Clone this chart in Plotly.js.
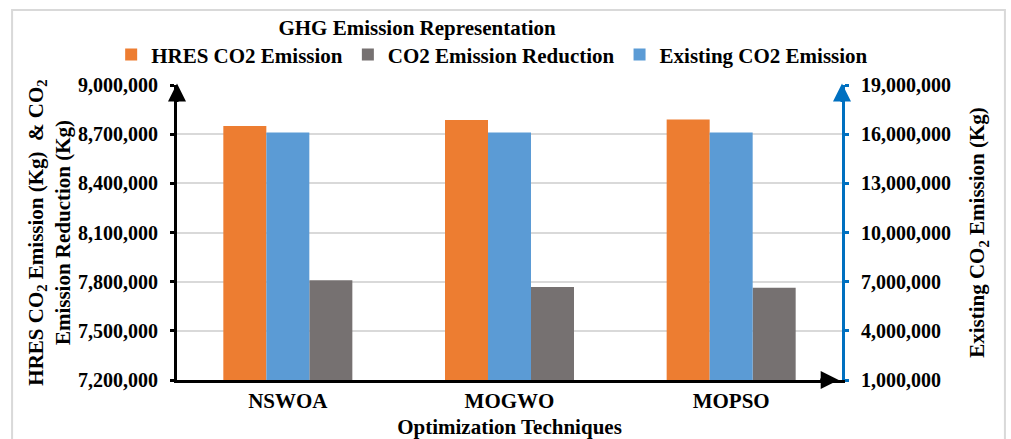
<!DOCTYPE html>
<html>
<head>
<meta charset="utf-8">
<script src="https://cdn.plot.ly/plotly-3.0.1.min.js"></script>
<style>
html,body{margin:0;padding:0;background:#fff;}
#chart{width:1011px;height:439px;}
</style>
</head>
<body>
<div id="chart"></div>
<script>
const categories = ["NSWOA", "MOGWO", "MOPSO"];
const hresCO2 = [8750000, 8787000, 8790000];
const co2Reduction = [7808000, 7767000, 7763000];
const existingCO2 = [16100000, 16100000, 16100000];

const FONT = "Liberation Serif, Times New Roman, serif";
const barW = 0.194;

const traces = [
  {type:'bar', name:'HRES CO2 Emission', x:categories, y:hresCO2, yaxis:'y',
   marker:{color:'#ED7D31'}, width:barW, offset:-0.291, base:0},
  {type:'bar', name:'CO2 Emission Reduction', x:categories, y:co2Reduction, yaxis:'y',
   marker:{color:'#767171'}, width:barW, offset:0.097, base:0},
  {type:'bar', name:'Existing CO2 Emission', x:categories, y:existingCO2, yaxis:'y2',
   marker:{color:'#5B9BD5'}, width:barW, offset:-0.097, base:0}
];

const tickFont = {family:FONT, size:20, color:'#000', weight:700};
const titleFont = {family:FONT, size:21, color:'#000', weight:700};

const layout = {
  width:1011, height:439,
  margin:{l:177, r:169, t:85, b:59},
  paper_bgcolor:'#fff', plot_bgcolor:'#fff',
  barmode:'overlay',
  showlegend:true,
  title:{text:'GHG Emission Representation', x:0.4125, xref:'container', xanchor:'center',
         y:0.936, yref:'container', yanchor:'middle', font:titleFont},
  legend:{orientation:'h', x:-0.099, xanchor:'left', y:1.102, yanchor:'middle',
          font:titleFont, itemwidth:30, traceorder:'normal', bgcolor:'rgba(0,0,0,0)'},
  xaxis:{type:'category', range:[-0.5, 2.5], showgrid:false, zeroline:false,
         showline:true, linecolor:'#000', linewidth:3, ticks:'',
         tickfont:{family:FONT, size:21, color:'#000', weight:700}, fixedrange:true,
         title:{text:'Optimization Techniques', standoff:8, font:titleFont}},
  yaxis:{range:[7200000, 9000000], dtick:300000, tick0:7200000, tickformat:',d',
         showgrid:true, gridcolor:'#d9d9d9', gridwidth:2, zeroline:false,
         showline:true, linecolor:'#000', linewidth:3,
         ticks:'outside', ticklen:4, tickwidth:3, tickcolor:'#000',
         ticklabelstandoff:8, tickfont:tickFont,
         title:{text:'HRES CO<sub>2</sub> Emission (Kg)  & CO<sub>2</sub><br>Emission Reduction (Kg)',
                standoff:2, font:titleFont}},
  yaxis2:{overlaying:'y', side:'right', range:[1000000, 19000000], dtick:3000000, tick0:1000000,
          tickformat:',d', showgrid:false, zeroline:false,
          showline:true, linecolor:'#0070C0', linewidth:3,
          ticks:'outside', ticklen:4, tickwidth:3, tickcolor:'#0070C0',
          ticklabelstandoff:8, tickfont:tickFont,
          title:{text:'Existing CO<sub>2</sub> Emission (Kg)', standoff:20, font:titleFont}},
  shapes:[
    {type:'rect', xref:'paper', yref:'paper', x0:-0.248, x1:1.245, y0:-0.3, y1:1.254,
     line:{color:'#d9d9d9', width:2}, fillcolor:'rgba(0,0,0,0)', layer:'below'}
  ],
  annotations:[
    {xref:'paper', yref:'paper', x:0, y:1.005, ax:0, ay:20, showarrow:true,
     arrowhead:2, arrowsize:1.2, arrowwidth:3, arrowcolor:'#000', text:''},
    {xref:'paper', yref:'paper', x:1, y:1.005, ax:0, ay:20, showarrow:true,
     arrowhead:2, arrowsize:1.2, arrowwidth:3, arrowcolor:'#0070C0', text:''},
    {xref:'paper', yref:'paper', x:0.995, y:0, ax:-20, ay:0, showarrow:true,
     arrowhead:2, arrowsize:1.2, arrowwidth:3, arrowcolor:'#000', text:''}
  ]
};

Plotly.newPlot('chart', traces, layout, {displayModeBar:false, staticPlot:true});
</script>
</body>
</html>
